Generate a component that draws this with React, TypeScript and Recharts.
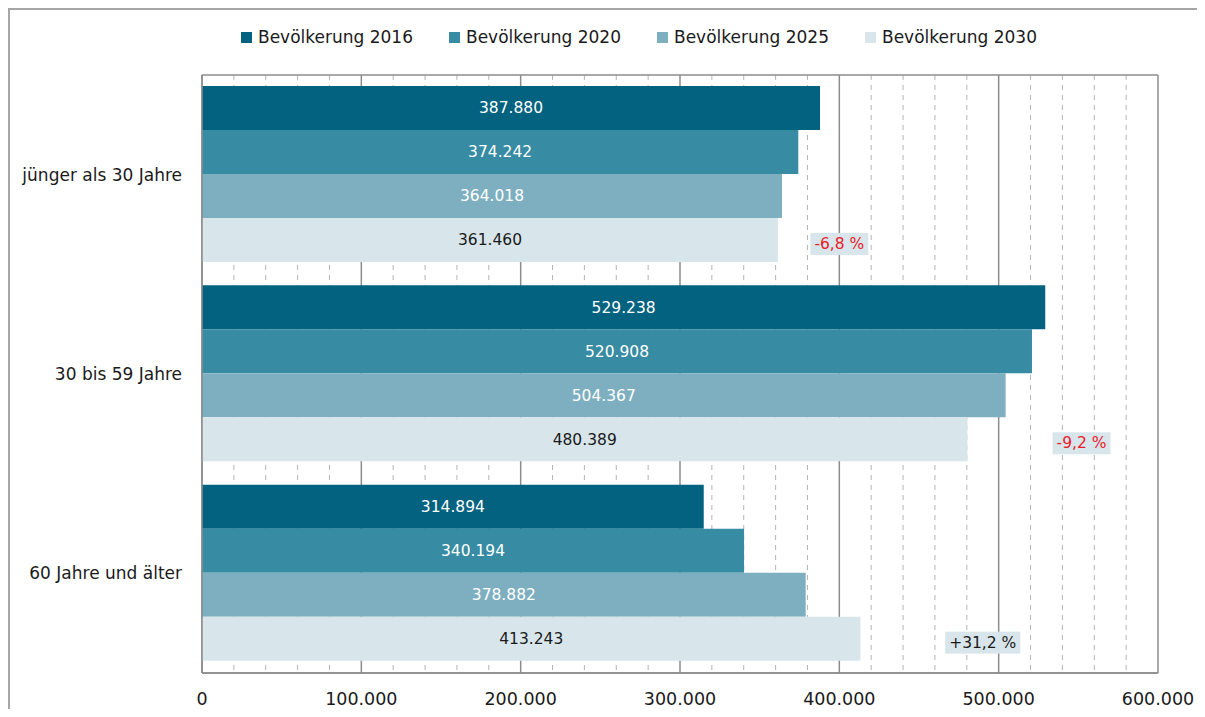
import React from 'react';
import { BarChart, Bar, XAxis, YAxis, CartesianGrid, LabelList } from 'recharts';

const categories = ['jünger als 30 Jahre', '30 bis 59 Jahre', '60 Jahre und älter'];
const pop2016 = [387880, 529238, 314894];
const pop2020 = [374242, 520908, 340194];
const pop2025 = [364018, 504367, 378882];
const pop2030 = [361460, 480389, 413243];
const changeLabels = ['-6,8 %', '-9,2 %', '+31,2 %'];
const changeLabelAt = [400000, 552000, 490000];
const xTicks = [0, 100000, 200000, 300000, 400000, 500000, 600000];
const minorTicks = [20000, 40000, 60000, 80000, 120000, 140000, 160000, 180000, 220000, 240000, 260000, 280000, 320000, 340000, 360000, 380000, 420000, 440000, 460000, 480000, 520000, 540000, 560000, 580000];

const series = [
  { key: 'p2016', name: 'Bevölkerung 2016', color: '#03627F', text: '#FFFFFF' },
  { key: 'p2020', name: 'Bevölkerung 2020', color: '#378BA2', text: '#FFFFFF' },
  { key: 'p2025', name: 'Bevölkerung 2025', color: '#7EAFC0', text: '#FFFFFF' },
  { key: 'p2030', name: 'Bevölkerung 2030', color: '#D8E6EB', text: '#1A1A1A' },
];

const data = categories.map((name, i) => ({
  name,
  p2016: pop2016[i],
  p2020: pop2020[i],
  p2025: pop2025[i],
  p2030: pop2030[i],
}));

const FONT = '"DejaVu Sans", Verdana, sans-serif';
const X_MAX = 600000;
const gridColor = '#8C8C8C';

const fmt = (v: number) => String(Math.round(v)).replace(/\B(?=(\d{3})+(?!\d))/g, '.');

// rough DejaVu Sans advance widths (em) for the change labels
const charW: Record<string, number> = { '-': 0.361, '+': 0.838, ',': 0.318, ' ': 0.318, '%': 0.95 };
const textWidth = (s: string, size: number) =>
  s.split('').reduce((sum, c) => sum + (charW[c] ?? 0.636), 0) * size;

// x position of a value, falls back to the linear domain if no scale fn is handed over
const xPos = (xAxis: any, offset: any, v: number) =>
  xAxis && typeof xAxis.scale === 'function' ? xAxis.scale(v) : offset.left + (offset.width * v) / X_MAX;

// box with the change 2016 -> 2030, placed in data units along the 2030 bar
const ChangeLabel = (props: any) => {
  const { x, y, width, height, index, value } = props;
  const label = changeLabels[index];
  const px = x + (width * changeLabelAt[index]) / value;
  const cy = y + height / 2 + 4;
  const w = textWidth(label, 15.5) + 8;
  const neg = label.startsWith('-');
  return (
    <g>
      <rect x={px - w / 2} y={cy - 11} width={w} height={22} fill="#D8E6EB" />
      <text x={px} y={cy} textAnchor="middle" dominantBaseline="central" fontSize={15.5} fontFamily={FONT} fill={neg ? '#E8202A' : '#1A1A1A'}>
        {label}
      </text>
    </g>
  );
};

const App: React.FC = () => {
  return (
    <div style={{ width: 1189, height: 701, overflow: 'hidden', fontFamily: FONT }}>
      <div style={{ position: 'relative', width: 1200, height: 720, border: '2px solid #A6A6A6' }}>
        <div style={{ position: 'absolute', top: 17, left: 231, display: 'flex', fontSize: 17, color: '#1A1A1A' }}>
          {series.map(s => (
            <div key={s.key} style={{ width: 208, display: 'flex', alignItems: 'center' }}>
              <span style={{ width: 11, height: 11, background: s.color, marginRight: 6, display: 'inline-block' }} />
              <span>{s.name}</span>
            </div>
          ))}
        </div>
        <BarChart
          width={1190}
          height={707}
          data={data}
          layout="vertical"
          margin={{ top: 65, right: 42, bottom: 0, left: 0 }}
          barCategoryGap="5.5%"
          barGap={0}
        >
          <CartesianGrid
            horizontal={false}
            stroke="#B4B4B4"
            strokeDasharray="5 5"
            verticalCoordinatesGenerator={({ xAxis, offset }: any) => minorTicks.map(v => xPos(xAxis, offset, v))}
          />
          <CartesianGrid
            stroke={gridColor}
            strokeWidth={1.5}
            verticalCoordinatesGenerator={({ xAxis, offset }: any) => xTicks.map(v => xPos(xAxis, offset, v))}
            horizontalCoordinatesGenerator={({ offset }: any) => [offset.top, offset.top + offset.height]}
          />
          <XAxis
            type="number"
            domain={[0, X_MAX]}
            ticks={xTicks}
            interval={0}
            tickFormatter={fmt}
            tickLine={false}
            tickSize={0}
            tickMargin={20}
            height={44}
            axisLine={{ stroke: gridColor, strokeWidth: 1.5 }}
            tick={{ fill: '#1A1A1A', fontSize: 17.5, fontFamily: FONT }}
          />
          <YAxis
            type="category"
            dataKey="name"
            width={192}
            tickLine={false}
            tickSize={0}
            tickMargin={20}
            axisLine={{ stroke: gridColor, strokeWidth: 1.5 }}
            tick={{ fill: '#1A1A1A', fontSize: 17, fontFamily: FONT }}
          />
          {series.map(s => (
            <Bar key={s.key} dataKey={s.key} name={s.name} fill={s.color} isAnimationActive={false}>
              <LabelList dataKey={s.key} position="center" formatter={(v: any) => fmt(Number(v))} fill={s.text} fontSize={15.5} fontFamily={FONT} />
              {s.key === 'p2030' && <LabelList dataKey="p2030" content={ChangeLabel} />}
            </Bar>
          ))}
        </BarChart>
      </div>
    </div>
  );
};

export default App;
